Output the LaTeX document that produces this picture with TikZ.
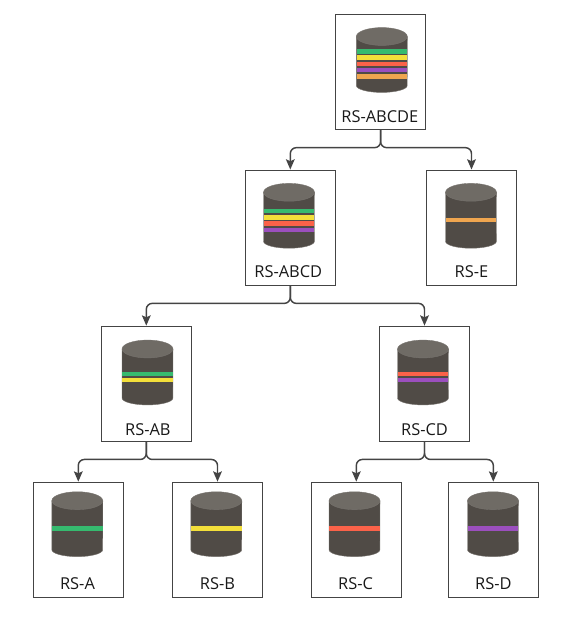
\documentclass[tikz,border=0pt]{standalone}
\usepackage{fontspec}
\setmainfont{Open Sans}
\usetikzlibrary{positioning,arrows.meta,calc}

\definecolor{rsbody}{HTML}{504B46}
\definecolor{rstop}{HTML}{6F6B65}
\definecolor{rsrim}{HTML}{77736E}
\definecolor{rsline}{HTML}{444444}
\definecolor{rsgreen}{HTML}{36BA6F}
\definecolor{rsyellow}{HTML}{F3DF3A}
\definecolor{rsred}{HTML}{FB6249}
\definecolor{rspurple}{HTML}{9B4FBE}
\definecolor{rsorange}{HTML}{EFA54F}

\begin{document}
\begin{tikzpicture}[
  x=0.75pt, y=-0.75pt,
  font=\fontsize{12.3}{14}\selectfont,
  >={Stealth[length=2.7mm,width=2.3mm,inset=0.5mm]},
  rsbox/.style={draw=rsline, line width=0.85pt, fill=white, inner sep=0pt,
                minimum width=67.6pt, minimum height=86.4pt},
  rslabel/.style={text=black!90, inner sep=0pt, above=5.6pt},
  link/.style={->, draw=rsline, line width=1.1pt, rounded corners=4.5pt},
  store/.pic={
    \draw[rsrim, fill=rsbody, line width=0.3pt] (-25.5,0) -- (-25.5,49)
      arc[start angle=180, end angle=360, x radius=19.1pt, y radius=5.2pt]
      -- (25.5,0) -- cycle;
    \foreach \yy/\col in {#1}
      \fill[\col] (-25.2,\yy-2.3) rectangle (25.2,\yy+2.3);
    \draw[rsrim, fill=rstop, line width=0.3pt] (0,0) ellipse[x radius=19.1pt, y radius=6.7pt];
  },
]
\useasboundingbox (0,0) rectangle (573,621);

% ---- top ----
\node[rsbox] (abcde) at (380.6,72) {};
\node[rslabel, xshift=-0.6pt] (abcdeL) at (abcde.south) {RS-ABCDE};
\pic at (381.8,36.5) {store={14.7/rsgreen,21/rsyellow,27.3/rsred,33.6/rspurple,39.9/rsorange}};

% ---- second row ----
\node[rsbox] (abcd) at (290.3,227.7) {};
\node[rslabel, xshift=-1.5pt] (abcdL) at (abcd.south) {RS-ABCD};
\pic at (289,192.3) {store={18.7/rsgreen,25/rsyellow,31.3/rsred,37.6/rspurple}};

\node[rsbox] (e) at (471.5,227.7) {};
\node[rslabel] (eL) at (e.south) {RS-E};
\pic at (471,192.3) {store={27.7/rsorange}};

% ---- third row ----
\node[rsbox] (ab) at (146.3,383.8) {};
\node[rslabel, xshift=1.2pt, yshift=-0.8pt] (abL) at (ab.south) {RS-AB};
\pic at (147.5,349) {store={25/rsgreen,31/rsyellow}};

\node[rsbox] (cd) at (424.5,383.8) {};
\node[rslabel, yshift=-0.8pt] (cdL) at (cd.south) {RS-CD};
\pic at (423,349) {store={25/rsred,31/rspurple}};

% ---- bottom row ----
\node[rsbox] (a) at (78.3,539.8) {};
\node[rslabel, yshift=0.7pt, xshift=-0.6pt] (aL) at (a.south) {RS-A};
\pic at (77.3,500.7) {store={27.7/rsgreen}};

\node[rsbox] (b) at (217.5,539.8) {};
\node[rslabel, yshift=0.7pt] (bL) at (b.south) {RS-B};
\pic at (216.3,500.7) {store={27.7/rsyellow}};

\node[rsbox] (c) at (356.3,539.8) {};
\node[rslabel, yshift=0.7pt, xshift=-0.6pt] (cL) at (c.south) {RS-C};
\pic at (354.5,500.7) {store={27.7/rsred}};

\node[rsbox] (d) at (493.3,539.8) {};
\node[rslabel, yshift=0.7pt] (dL) at (d.south) {RS-D};
\pic at (493,500.7) {store={27.7/rspurple}};

% ---- edges ----
\foreach \from/\to in {abcde/abcd,abcde/e,abcd/ab,abcd/cd,ab/a,ab/b,cd/c,cd/d}
  \draw[link] (\from.south) -- ++(0,17.5) -| (\to.north);
\end{tikzpicture}
\end{document}
